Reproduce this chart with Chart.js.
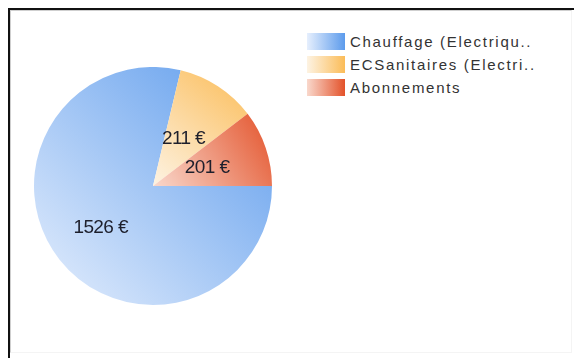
<!DOCTYPE html>
<html>
<head>
<meta charset="utf-8">
<script src="https://cdn.jsdelivr.net/npm/chart.js@4/dist/chart.umd.min.js"></script>
<style>
  html, body { margin: 0; padding: 0; background: #fff; width: 574px; height: 358px; overflow: hidden; }
  #frame { position: absolute; left: 8px; top: 8px; width: 566px; height: 350px; box-sizing: border-box;
           border-top: 2px solid #111; border-left: 2px solid #111; }
  #frame-inner { position: absolute; left: 10px; top: 10px; right: 2px; bottom: 5px;
                 border-top: 1px solid #cfcfcf; border-left: 1px solid #cfcfcf;
                 border-right: 1px solid #f4f4f4; border-bottom: 1px solid #f4f4f4; }
  #pie { position: absolute; left: 34px; top: 67px; width: 238px; height: 238px; }
  #legend { position: absolute; left: 307px; top: 30px; font: 15px "Liberation Sans", Arial, sans-serif;
            color: #333; letter-spacing: 1.7px; }
  .row { height: 23px; display: flex; align-items: center; white-space: nowrap; }
  .sw { width: 38px; height: 17px; margin-right: 5px; flex: none; }
</style>
</head>
<body>
<div id="frame"></div>
<div id="frame-inner"></div>
<div id="pie"><canvas id="c"></canvas></div>
<div id="legend"></div>
<script>
// Cost breakdown per item (euros)
const categories = ['Chauffage (Electriqu..', 'ECSanitaires (Electri..', 'Abonnements'];
const amounts = [1526, 211, 201];
const currency = '€';
// Each slice shades from a pale tone (lower left) to a deep tone (upper right)
const paleColors = ['#e6effd', '#fdf3e3', '#f9d8cc'];
const deepColors = ['#5c9bec', '#fbbc58', '#e3522a'];

const ROTATION = 90; // first slice starts at 3 o'clock
// Distance of each value label from the centre, as a share of the radius
const LABEL_RADIUS = [0.56, 0.47, 0.48];

// Linear gradient across the bounding box of a slice, computed from the chart area
function sliceGradient(ctx) {
  const chart = ctx.chart;
  const area = chart.chartArea;
  const i = ctx.dataIndex;
  if (!area) return deepColors[i];
  const cx = (area.left + area.right) / 2;
  const cy = (area.top + area.bottom) / 2;
  const R = Math.min(area.right - area.left, area.bottom - area.top) / 2;
  const total = amounts.reduce((a, b) => a + b, 0);
  const before = amounts.slice(0, i).reduce((a, b) => a + b, 0);
  const base = -Math.PI / 2 + ROTATION * Math.PI / 180;
  const a0 = base + before / total * 2 * Math.PI;
  const a1 = a0 + amounts[i] / total * 2 * Math.PI;
  const pts = [[cx, cy], [cx + R * Math.cos(a0), cy + R * Math.sin(a0)], [cx + R * Math.cos(a1), cy + R * Math.sin(a1)]];
  for (let k = Math.ceil(a0 / (Math.PI / 2)); k * Math.PI / 2 < a1; k++) {
    const a = k * Math.PI / 2;
    pts.push([cx + R * Math.cos(a), cy + R * Math.sin(a)]);
  }
  const xs = pts.map(p => p[0]), ys = pts.map(p => p[1]);
  const g = chart.ctx.createLinearGradient(Math.min(...xs), Math.max(...ys), Math.max(...xs), Math.min(...ys));
  g.addColorStop(0, paleColors[i]);
  g.addColorStop(1, deepColors[i]);
  return g;
}

// Value labels inside each slice
const sliceLabels = {
  id: 'sliceLabels',
  afterDatasetsDraw(chart) {
    const ctx = chart.ctx;
    const meta = chart.getDatasetMeta(0);
    ctx.save();
    ctx.font = '19px "Liberation Sans", Arial, sans-serif';
    ctx.fillStyle = '#1d1f2c';
    ctx.textAlign = 'center';
    ctx.textBaseline = 'middle';
    if ('letterSpacing' in ctx) ctx.letterSpacing = '-0.6px';
    meta.data.forEach((arc, i) => {
      const p = arc.getProps(['x', 'y', 'startAngle', 'endAngle', 'outerRadius']);
      const mid = (p.startAngle + p.endAngle) / 2;
      const r = p.outerRadius * LABEL_RADIUS[i];
      ctx.fillText(chart.data.datasets[0].data[i] + ' ' + currency, p.x + r * Math.cos(mid), p.y + r * Math.sin(mid));
    });
    ctx.restore();
  }
};

const chart = new Chart(document.getElementById('c'), {
  type: 'pie',
  data: {
    labels: categories,
    datasets: [{
      data: amounts,
      backgroundColor: sliceGradient,
      borderWidth: 0
    }]
  },
  options: {
    responsive: true,
    maintainAspectRatio: false,
    animation: false,
    events: [],
    rotation: ROTATION,
    layout: { padding: 0 },
    plugins: { legend: { display: false }, tooltip: { enabled: false } }
  },
  plugins: [sliceLabels]
});

// Legend built from the chart's own labels
const legend = document.getElementById('legend');
chart.data.labels.forEach((label, i) => {
  const row = document.createElement('div');
  row.className = 'row';
  const sw = document.createElement('div');
  sw.className = 'sw';
  sw.style.background = 'linear-gradient(to right, ' + paleColors[i] + ', ' + deepColors[i] + ')';
  const txt = document.createElement('span');
  txt.textContent = label;
  row.appendChild(sw);
  row.appendChild(txt);
  legend.appendChild(row);
});
</script>
</body>
</html>
